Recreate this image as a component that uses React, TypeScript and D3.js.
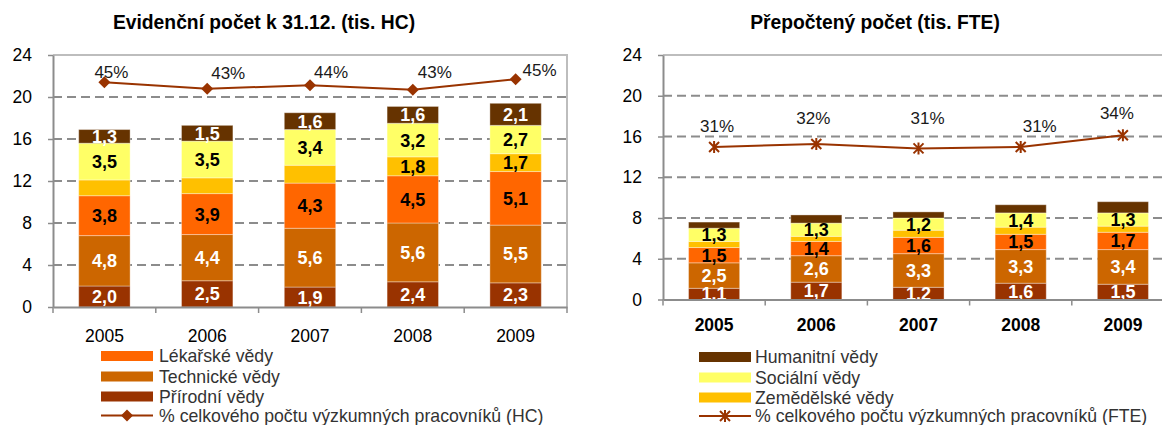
import * as d3 from "d3";
import { useEffect, useRef } from "react";

const years = ["2005", "2006", "2007", "2008", "2009"];
const seriesNames = [
  "Přírodní vědy",
  "Technické vědy",
  "Lékařské vědy",
  "Zemědělské vědy",
  "Sociální vědy",
  "Humanitní vědy",
];
const seriesColors = ["#993300", "#CC6600", "#FF6600", "#FFC000", "#FFFF66", "#663300"];
const labelColors = ["#ffffff", "#ffffff", "#000000", "#000000", "#000000", "#ffffff"];
const yTicks = [0, 4, 8, 12, 16, 20, 24];

// Evidenční počet (tis. HC)
const prirodniHC = [2.0, 2.5, 1.9, 2.4, 2.3];
const technickeHC = [4.8, 4.4, 5.6, 5.6, 5.5];
const lekarskeHC = [3.8, 3.9, 4.3, 4.5, 5.1];
const zemedelskeHC = [1.5, 1.5, 1.7, 1.8, 1.7];
const socialniHC = [3.5, 3.5, 3.4, 3.2, 2.7];
const humanitniHC = [1.3, 1.5, 1.6, 1.6, 2.1];
const podilHC = [0.446, 0.433, 0.44, 0.431, 0.452];

// Přepočtený počet (tis. FTE)
const prirodniFTE = [1.1, 1.7, 1.2, 1.6, 1.5];
const technickeFTE = [2.5, 2.6, 3.3, 3.3, 3.4];
const lekarskeFTE = [1.5, 1.4, 1.6, 1.5, 1.7];
const zemedelskeFTE = [0.6, 0.5, 0.7, 0.7, 0.6];
const socialniFTE = [1.3, 1.3, 1.2, 1.4, 1.3];
const humanitniFTE = [0.6, 0.8, 0.6, 0.8, 1.1];
const podilFTE = [0.312, 0.318, 0.309, 0.312, 0.336];

// which segment labels are shown (per series, per year)
const showHC = [
  [true, true, true, true, true],
  [true, true, true, true, true],
  [true, true, true, true, true],
  [false, false, false, true, true],
  [true, true, true, true, true],
  [true, true, true, true, true],
];
const showFTE = [
  [true, true, true, true, true],
  [true, true, true, true, true],
  [true, true, true, true, true],
  [false, false, false, false, false],
  [true, true, true, true, true],
  [false, false, false, false, false],
];

// manual nudges of the % labels (px)
const pctDxHC = [7, 21, 21, 22, 24];
const pctDyHC = [-10, -16, -13, -18, -9];
const pctDxFTE = [3, -3, 9, 19, -6];
const pctDyFTE = [-21, -26, -31, -21, -22];

const FONT = "'Liberation Sans', Arial, sans-serif";
const LINE_COLOR = "#993300";

function starPath(r: number) {
  return `M${-r},${-r}L${r},${r}M${-r},${r}L${r},${-r}M0,${-r - 1}L0,${r + 1}`;
}

function drawPanel(svg: any, cfg: any) {
  const { id, x0, x1, yTop, yBottom, values, show, pct, marker, pctDx, pctDy, title, titleX, boldYears, yearPad } = cfg;

  const x = d3.scaleBand().domain(years).range([x0, x1]).paddingInner(0.5).paddingOuter(0.25);
  const y = d3.scaleLinear().domain([0, 24]).range([yBottom, yTop]);
  const y2 = d3.scaleLinear().domain([0, 0.5]).range([yBottom, yTop]);
  const step = x.step();

  svg
    .append("text")
    .attr("x", titleX)
    .attr("y", 29)
    .attr("text-anchor", "middle")
    .attr("font-family", FONT)
    .attr("font-size", "19.3px")
    .attr("font-weight", "bold")
    .attr("fill", "#000")
    .text(title);

  svg
    .append("clipPath")
    .attr("id", id)
    .append("rect")
    .attr("x", x0)
    .attr("y", yTop)
    .attr("width", x1 - x0)
    .attr("height", yBottom - yTop);

  // grid lines
  svg
    .append("g")
    .selectAll("line")
    .data(yTicks.filter((d) => d > 0 && d < 24))
    .enter()
    .append("line")
    .attr("x1", x0)
    .attr("x2", x1)
    .attr("y1", (d: number) => y(d))
    .attr("y2", (d: number) => y(d))
    .attr("stroke", "#8c8c8c")
    .attr("stroke-width", 2)
    .attr("stroke-dasharray", "9,5");

  // plot border top + right
  svg
    .append("path")
    .attr("d", `M${x0},${y(24)}H${x1}V${yBottom}`)
    .attr("fill", "none")
    .attr("stroke", "#bdbdbd")
    .attr("stroke-width", 2);

  // stacked bars
  const rows = years.map((yr, i) => {
    const r: any = { year: yr };
    values.forEach((arr: number[], k: number) => (r["s" + k] = arr[i]));
    return r;
  });
  const keys = values.map((_: any, k: number) => "s" + k);
  const stacked = d3.stack().keys(keys)(rows);

  const layers = svg
    .append("g")
    .selectAll("g")
    .data(stacked)
    .enter()
    .append("g")
    .attr("fill", (_: any, k: number) => seriesColors[k]);

  layers
    .selectAll("rect")
    .data((d: any) => d)
    .enter()
    .append("rect")
    .attr("x", (d: any) => x(d.data.year))
    .attr("y", (d: any) => y(d[1]))
    .attr("width", x.bandwidth())
    .attr("height", (d: any) => y(d[0]) - y(d[1]))
    .attr("stroke", "rgba(255,255,255,0.35)")
    .attr("stroke-width", 1);

  // segment labels
  const fmt = d3.format(".1f");
  const labelG = svg.append("g").attr("clip-path", `url(#${id})`);
  stacked.forEach((layer: any, k: number) => {
    labelG
      .append("g")
      .selectAll("text")
      .data(layer.filter((_: any, i: number) => show[k][i]))
      .enter()
      .append("text")
      .attr("x", (d: any) => (x(d.data.year) as number) + x.bandwidth() / 2)
      .attr("y", (d: any) => (y(d[0]) + y(d[1])) / 2)
      .attr("dy", "0.36em")
      .attr("text-anchor", "middle")
      .attr("font-family", FONT)
      .attr("font-size", "18px")
      .attr("font-weight", "bold")
      .attr("fill", labelColors[k])
      .text((d: any) => fmt(d[1] - d[0]).replace(".", ","));
  });

  // y axis
  const yAxis = svg
    .append("g")
    .attr("transform", `translate(${x0},0)`)
    .call(d3.axisLeft(y).tickValues(yTicks).tickSize(5).tickPadding(16).tickSizeOuter(0));
  yAxis.select(".domain").attr("stroke", "#8c8c8c").attr("stroke-width", 2);
  yAxis.selectAll(".tick line").attr("stroke", "#8c8c8c").attr("stroke-width", 1.5);
  yAxis
    .selectAll(".tick text")
    .attr("font-family", FONT)
    .attr("font-size", "17.5px")
    .attr("fill", "#000");

  // x axis
  const xAxis = svg
    .append("g")
    .attr("transform", `translate(0,${yBottom})`)
    .call(d3.axisBottom(x).tickSize(0).tickPadding(yearPad));
  xAxis.select(".domain").attr("stroke", "#8c8c8c").attr("stroke-width", 2);
  xAxis
    .selectAll(".tick text")
    .attr("font-family", FONT)
    .attr("font-size", "17.5px")
    .attr("font-weight", boldYears ? "bold" : "normal")
    .attr("fill", "#000");
  xAxis
    .append("g")
    .selectAll("line")
    .data(d3.range(years.length + 1))
    .enter()
    .append("line")
    .attr("x1", (k: number) => x0 + k * step)
    .attr("x2", (k: number) => x0 + k * step)
    .attr("y1", 0)
    .attr("y2", 6)
    .attr("stroke", "#8c8c8c")
    .attr("stroke-width", 1.5);

  // % line
  const cx = (i: number) => (x(years[i]) as number) + x.bandwidth() / 2;
  const line = d3
    .line<number>()
    .x((_, i) => cx(i))
    .y((d) => y2(d));
  svg
    .append("path")
    .datum(pct)
    .attr("d", line)
    .attr("fill", "none")
    .attr("stroke", LINE_COLOR)
    .attr("stroke-width", 2);

  const markers = svg
    .append("g")
    .selectAll("g")
    .data(pct)
    .enter()
    .append("g")
    .attr("transform", (d: number, i: number) => `translate(${cx(i)},${y2(d)})`);
  drawMarker(markers, marker);

  svg
    .append("g")
    .selectAll("text")
    .data(pct)
    .enter()
    .append("text")
    .attr("x", (_: number, i: number) => cx(i) + pctDx[i])
    .attr("y", (d: number, i: number) => y2(d) + pctDy[i])
    .attr("dy", "0.36em")
    .attr("text-anchor", "middle")
    .attr("font-family", FONT)
    .attr("font-size", "17px")
    .attr("fill", "#1a1a1a")
    .text((d: number) => `${Math.round(d * 100)}%`);
}

function drawMarker(sel: any, marker: string) {
  if (marker === "diamond") {
    sel
      .append("path")
      .attr("d", d3.symbol(d3.symbolSquare, 72)())
      .attr("transform", "rotate(45)")
      .attr("fill", LINE_COLOR);
  } else {
    sel
      .append("path")
      .attr("d", starPath(5))
      .attr("fill", "none")
      .attr("stroke", LINE_COLOR)
      .attr("stroke-width", 2);
  }
}

function drawLegend(svg: any, cfg: any) {
  const { sx, tx, rows, series, lineLabel, marker } = cfg;
  const g = svg.append("g");
  series.forEach((k: number, i: number) => {
    g.append("rect")
      .attr("x", sx)
      .attr("y", rows[i] - 5)
      .attr("width", 52)
      .attr("height", 10)
      .attr("fill", seriesColors[k]);
    g.append("text")
      .attr("x", tx)
      .attr("y", rows[i])
      .attr("dy", "0.36em")
      .attr("font-family", FONT)
      .attr("font-size", "17.7px")
      .attr("fill", "#333")
      .text(seriesNames[k]);
  });
  const ly = rows[series.length];
  g.append("line")
    .attr("x1", sx)
    .attr("x2", sx + 52)
    .attr("y1", ly)
    .attr("y2", ly)
    .attr("stroke", LINE_COLOR)
    .attr("stroke-width", 2);
  drawMarker(g.append("g").attr("transform", `translate(${sx + 26},${ly})`), marker);
  g.append("text")
    .attr("x", tx)
    .attr("y", ly)
    .attr("dy", "0.36em")
    .attr("font-family", FONT)
    .attr("font-size", "17.7px")
    .attr("fill", "#333")
    .text(lineLabel);
}

export default function App() {
  const svgRef = useRef<SVGSVGElement>(null);

  useEffect(() => {
    if (!svgRef.current) return;
    const svg = d3.select(svgRef.current);
    svg.selectAll("*").remove();

    drawPanel(svg, {
      id: "clipHC",
      x0: 53,
      x1: 567,
      yTop: 55,
      yBottom: 307,
      values: [prirodniHC, technickeHC, lekarskeHC, zemedelskeHC, socialniHC, humanitniHC],
      show: showHC,
      pct: podilHC,
      marker: "diamond",
      pctDx: pctDxHC,
      pctDy: pctDyHC,
      title: "Evidenční počet k 31.12. (tis. HC)",
      titleX: 264,
      boldYears: false,
      yearPad: 23,
    });

    drawPanel(svg, {
      id: "clipFTE",
      x0: 663,
      x1: 1174,
      yTop: 55,
      yBottom: 299.5,
      values: [prirodniFTE, technickeFTE, lekarskeFTE, zemedelskeFTE, socialniFTE, humanitniFTE],
      show: showFTE,
      pct: podilFTE,
      marker: "star",
      pctDx: pctDxFTE,
      pctDy: pctDyFTE,
      title: "Přepočtený počet (tis. FTE)",
      titleX: 875,
      boldYears: true,
      yearPad: 19,
    });

    drawLegend(svg, {
      sx: 101,
      tx: 159,
      rows: [356, 376.5, 396.5, 415.5],
      series: [2, 1, 0],
      lineLabel: "% celkového počtu výzkumných pracovníků (HC)",
      marker: "diamond",
    });

    drawLegend(svg, {
      sx: 699,
      tx: 755,
      rows: [357, 377.5, 397.5, 416],
      series: [5, 4, 3],
      lineLabel: "% celkového počtu výzkumných pracovníků (FTE)",
      marker: "star",
    });
  }, []);

  return (
    <svg
      ref={svgRef}
      width={1162}
      height={425}
      style={{ position: "fixed", left: 0, top: 0, background: "#fff" }}
    />
  );
}
